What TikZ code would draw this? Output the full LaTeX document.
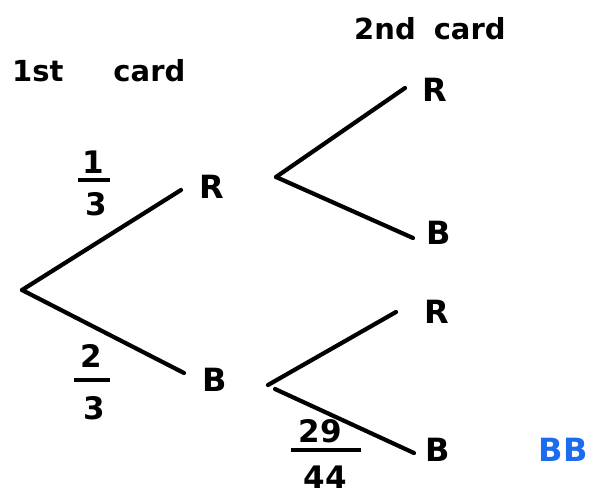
\documentclass[tikz,border=0pt]{standalone}
\usepackage{fontspec}
\setmainfont{DejaVu Sans}
\usepackage{xcolor}
\usepackage{tikz}
\usetikzlibrary{positioning}

\definecolor{inkblue}{RGB}{28,108,240}

\begin{document}
\begin{tikzpicture}[
  x=1pt, y=-1pt,
  font=\bfseries,
  branch/.style={line width=4.2pt, line cap=round},
  outcome/.style={inner sep=0pt, font=\fontsize{32}{36}\selectfont\bfseries},
  head/.style={inner sep=0pt, anchor=base west, font=\fontsize{29}{32}\selectfont\bfseries},
  num/.style={inner sep=0pt, font=\fontsize{31}{34}\selectfont\bfseries},
  fbar/.style={fill, inner sep=0pt, minimum height=4pt}
]
\useasboundingbox (0,0) rectangle (593,495);

% headings
\node[head] (h1) at (12,81) {1st\hspace{50pt}card};
\node[head] (h2) at (354,39) {2nd\hspace{18pt}card};

% first card
\coordinate (root) at (22,290);
\coordinate (r1end) at (181,190);
\coordinate (b1end) at (184,373);
\node[outcome] (R1) at (212,187) {R};
\node[outcome] (B1) at (215,380) {B};
\draw[branch] (root) -- (r1end);
\draw[branch] (root) -- (b1end);

% second card after R
\coordinate (rv) at (276,177);
\coordinate (rrend) at (405,88);
\coordinate (rbend) at (413,238);
\node[outcome] (RR) at (435,90) {R};
\node[outcome] (RB) at (439,233) {B};
\draw[branch] (rv) -- (rrend);
\draw[branch] (rv) -- (rbend);

% second card after B
\coordinate (bvu) at (268,385);
\coordinate (bvd) at (275,389);
\coordinate (brend) at (396,312);
\coordinate (bbend) at (414,453);
\node[outcome] (BR) at (437,312) {R};
\node[outcome] (BB) at (438,450) {B};
\draw[branch] (bvu) -- (brend);
\draw[branch] (bvd) -- (bbend);

% probabilities
\node[num] (p1n) at (93,162) {1};
\node[fbar, minimum width=32pt] (p1b) at (94,180) {};
\node[num] (p1d) at (96,204) {3};

\node[num] (p2n) at (91,356) {2};
\node[fbar, minimum width=36pt] (p2b) at (92,380) {};
\node[num] (p2d) at (94,408) {3};

\node[num] (p3n) at (320,431) {29};
\node[fbar, minimum width=70pt] (p3b) at (326,450) {};
\node[num] (p3d) at (325,477) {44};

\node[outcome, text=inkblue] (bbtag) at (563,450) {BB};
\end{tikzpicture}
\end{document}
